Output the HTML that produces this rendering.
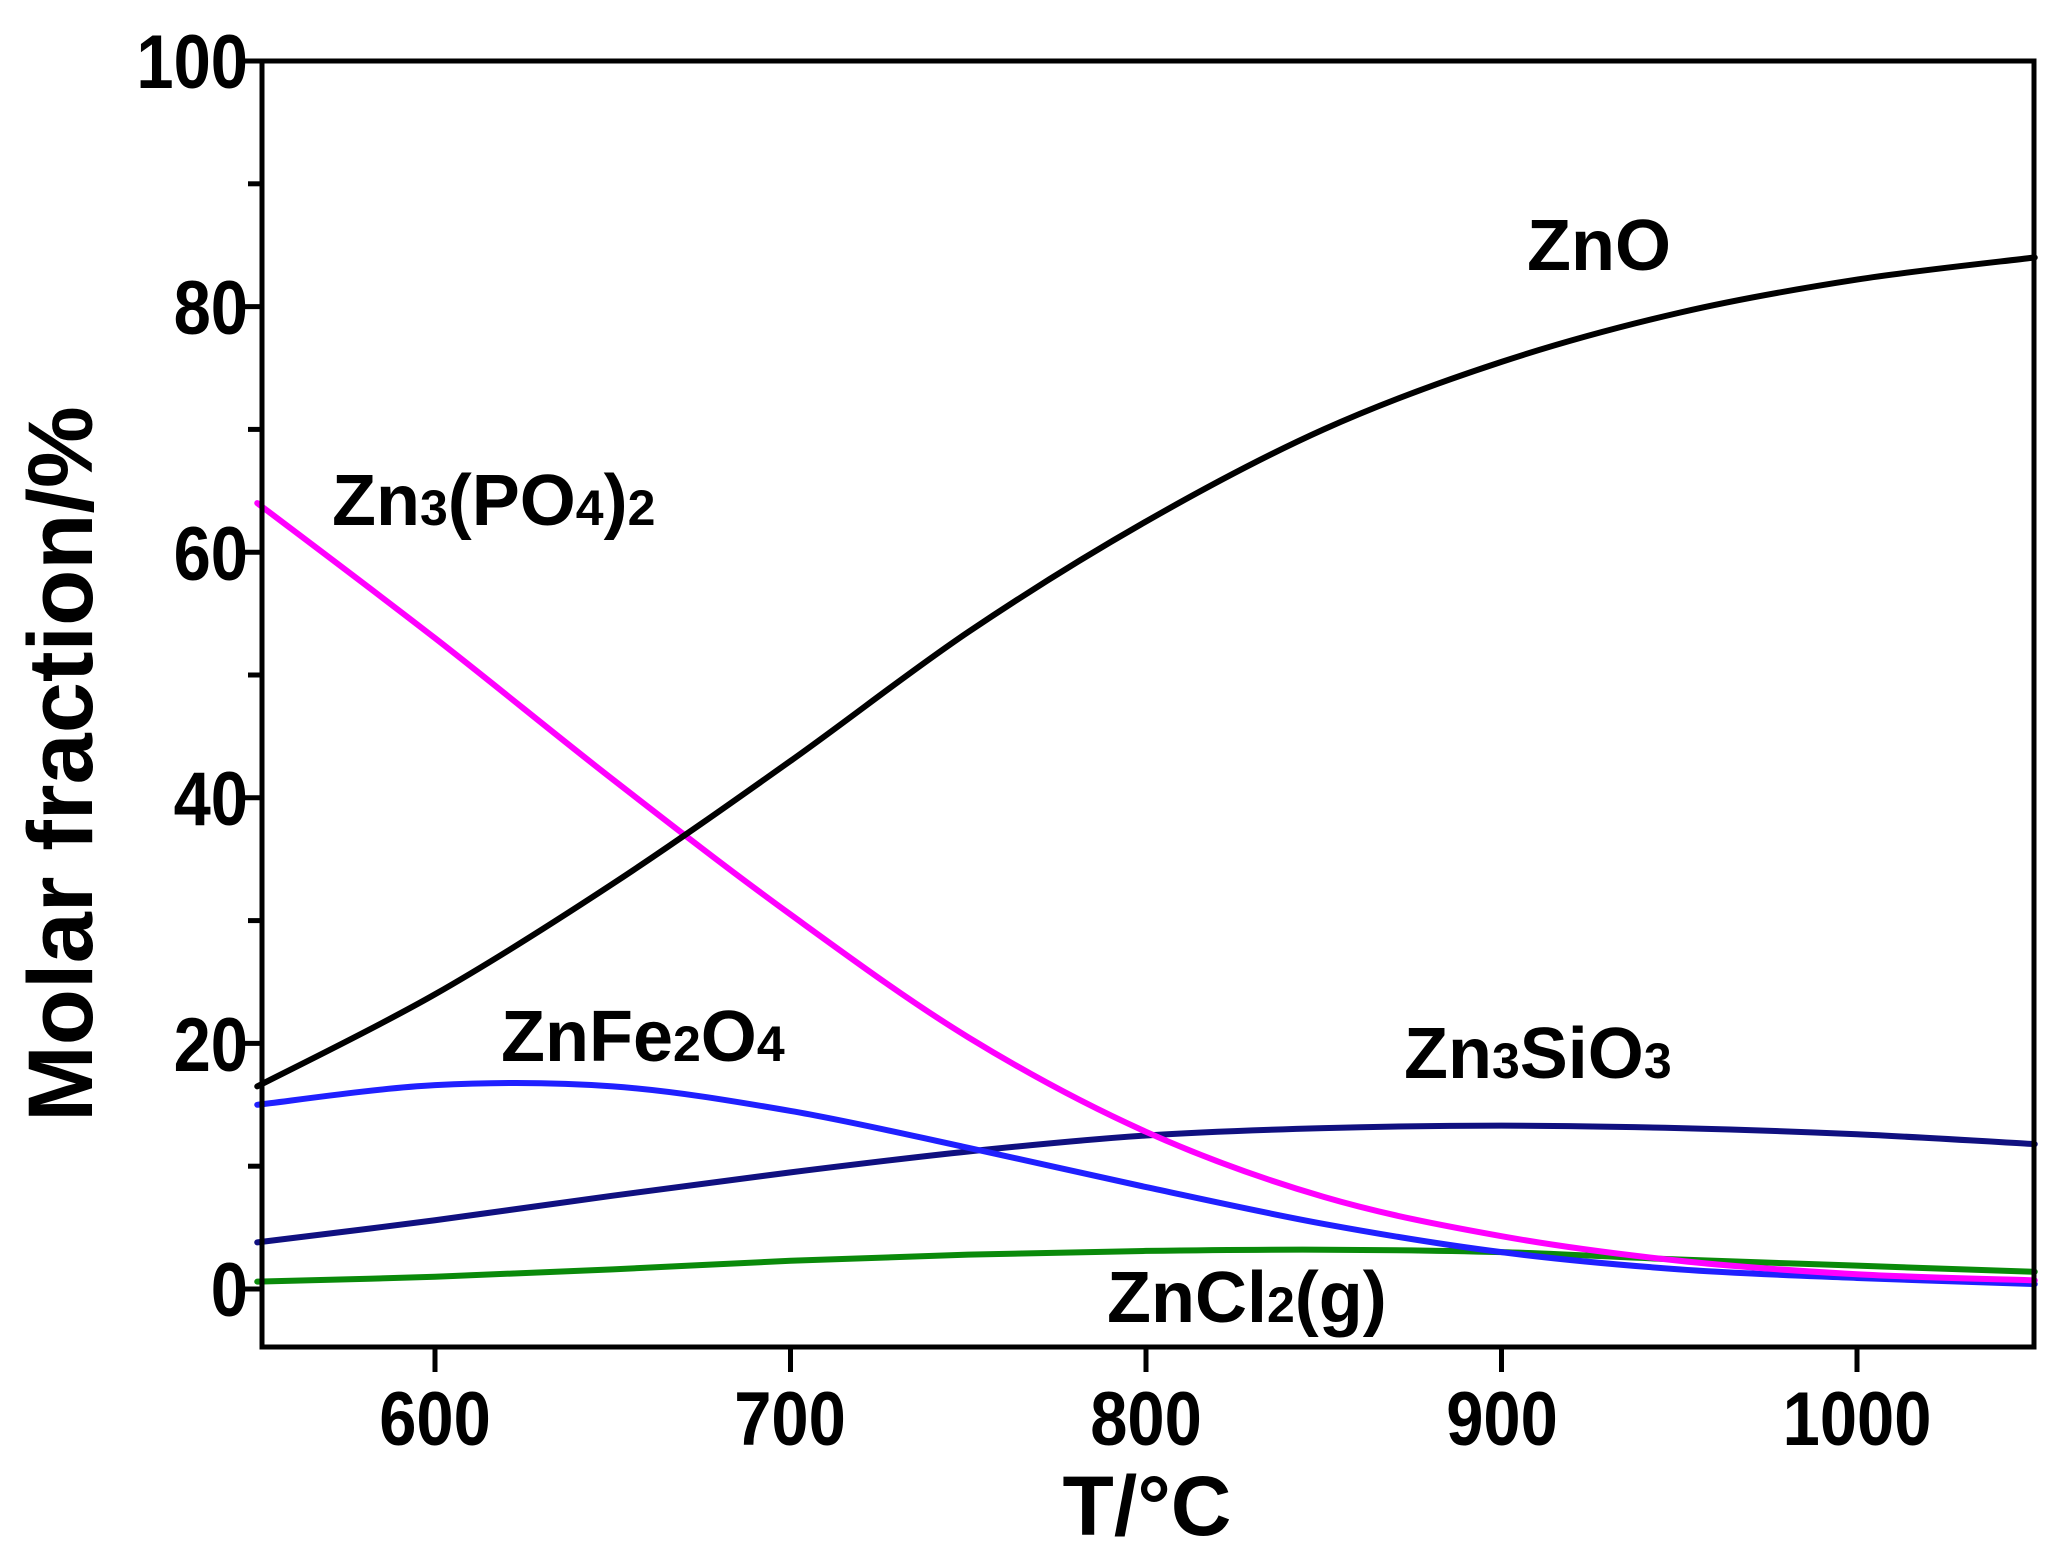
<!DOCTYPE html>
<html><head><meta charset="utf-8"><style>
html,body{margin:0;padding:0;background:#fff;}
svg{display:block;}
text{font-family:"Liberation Sans",Arial,sans-serif;font-weight:bold;fill:#000;}
</style></head><body>
<svg id="s" width="2056" height="1551" viewBox="0 0 2056 1551" xmlns="http://www.w3.org/2000/svg">
<g id="curves" fill="none" stroke-width="6" stroke-linejoin="round" stroke-linecap="round"></g>
<rect x="262" y="61" width="1772" height="1286" fill="none" stroke="#000" stroke-width="5"/>
<g id="ticks" stroke="#000" stroke-width="5"></g>
<g font-size="76" text-anchor="end" transform="translate(248,0) scale(0.88,1) translate(-248,0)">
<text x="248" y="88">100</text>
<text x="248" y="334">80</text>
<text x="248" y="580">60</text>
<text x="248" y="825">40</text>
<text x="248" y="1071">20</text>
<text x="248" y="1316">0</text>
</g>
<g font-size="76" text-anchor="middle">
<text transform="translate(435,1445) scale(0.88,1)">600</text>
<text transform="translate(790,1445) scale(0.88,1)">700</text>
<text transform="translate(1146,1445) scale(0.88,1)">800</text>
<text transform="translate(1502,1445) scale(0.88,1)">900</text>
<text transform="translate(1857,1445) scale(0.88,1)">1000</text>
</g>
<text x="1147" y="1535" font-size="84" text-anchor="middle">T/°C</text>
<text transform="translate(92,764) rotate(-90)" font-size="92" text-anchor="middle">Molar fraction/%</text>
<g font-size="72">
<text x="1527" y="270">ZnO</text>
<text x="332" y="525">Zn<tspan font-size="50">3</tspan>(PO<tspan font-size="50">4</tspan>)<tspan font-size="50">2</tspan></text>
<text x="501" y="1061">ZnFe<tspan font-size="50">2</tspan>O<tspan font-size="50">4</tspan></text>
<text x="1404" y="1078">Zn<tspan font-size="50">3</tspan>SiO<tspan font-size="50">3</tspan></text>
<text x="1107" y="1322">ZnCl<tspan font-size="50">2</tspan>(g)</text>
</g>
</svg>
<script>
const X=t=>435+(t-600)*3.555, Y=v=>1289-12.28*v;
const ts=[550,600,650,700,750,800,850,900,950,1000,1050];
const series=[
["#101080",[3.8,5.6,7.6,9.5,11.2,12.5,13.1,13.3,13.1,12.6,11.8]],
["#0a8a0a",[0.6,1,1.6,2.3,2.8,3.1,3.2,3.0,2.4,1.9,1.4]],
["#2020ff",[15,16.6,16.5,14.5,11.5,8.3,5.3,3.0,1.6,0.9,0.4]],
["#ff00ff",[64,53,41.5,30.5,20.5,12.8,7.5,4.3,2.3,1.2,0.7]],
["#000000",[16.5,24,33,43,53.5,62.5,70,75.5,79.5,82.2,84]]
];
const ns="http://www.w3.org/2000/svg";
const g=document.getElementById("curves");
series.forEach(([c,v])=>{
 const p=ts.map((t,i)=>[X(t),Y(v[i])]);
 let d="M"+p[0][0]+","+p[0][1];
 for(let i=0;i<p.length-1;i++){
  const p0=p[Math.max(0,i-1)],p1=p[i],p2=p[i+1],p3=p[Math.min(p.length-1,i+2)];
  d+=` C${p1[0]+(p2[0]-p0[0])/6},${p1[1]+(p2[1]-p0[1])/6} ${p2[0]-(p3[0]-p1[0])/6},${p2[1]-(p3[1]-p1[1])/6} ${p2[0]},${p2[1]}`;
 }
 const e=document.createElementNS(ns,"path");e.setAttribute("d",d);e.setAttribute("stroke",c);g.appendChild(e);
});
const tk=document.getElementById("ticks");
function ln(x1,y1,x2,y2){const l=document.createElementNS(ns,"line");l.setAttribute("x1",x1);l.setAttribute("y1",y1);l.setAttribute("x2",x2);l.setAttribute("y2",y2);tk.appendChild(l);}
for(let v=0;v<=100;v+=10){ln(262,Y(v),v%20==0?238:248,Y(v));}
for(let t=600;t<=1000;t+=100){ln(X(t),1347,X(t),1372);}
</script>
</body></html>
